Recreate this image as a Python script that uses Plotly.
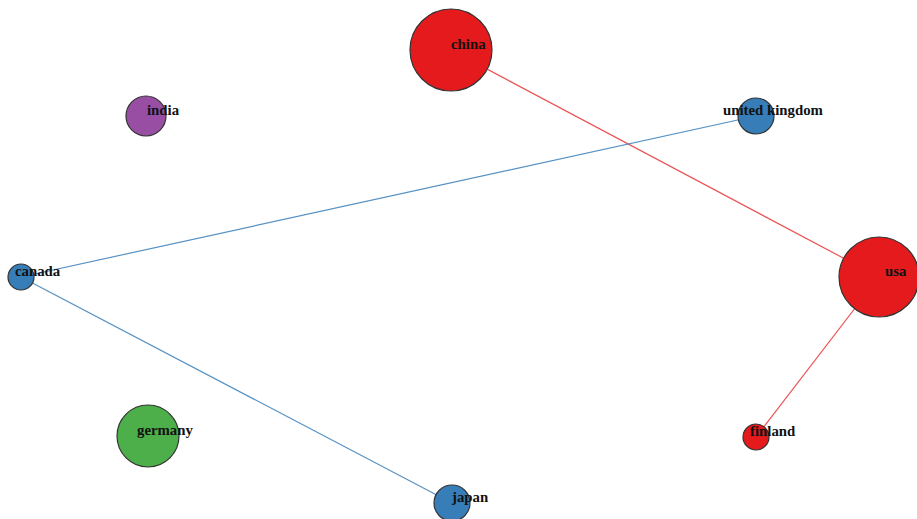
import plotly.graph_objects as go

# Node data (layout coordinates in a 917 x 519 canvas)
nodes = ["china", "india", "united kingdom", "canada", "usa", "germany", "japan", "finland"]
node_x = [451, 146, 756, 21, 879, 148, 452, 756]
node_y = [50, 116, 116, 277, 277, 436, 503, 437]
node_size = [82, 40, 36, 26, 80, 62, 36, 26]
node_group = ["red", "purple", "blue", "blue", "red", "green", "blue", "red"]

edge_source = ["china", "usa", "canada", "canada"]
edge_target = ["usa", "finland", "united kingdom", "japan"]

group_colors = {"red": "#e41a1c", "blue": "#377eb8", "green": "#4daf4a", "purple": "#984ea3"}
edge_colors = {"red": "rgba(228,26,28,0.75)", "blue": "rgba(55,126,184,0.85)"}

idx = {n: i for i, n in enumerate(nodes)}

fig = go.Figure()

for s, t in zip(edge_source, edge_target):
    i, j = idx[s], idx[t]
    fig.add_trace(go.Scatter(
        x=[node_x[i], node_x[j]], y=[node_y[i], node_y[j]],
        mode="lines", line=dict(color=edge_colors[node_group[i]], width=1.2),
        hoverinfo="skip", showlegend=False))

fig.add_trace(go.Scatter(
    x=node_x, y=node_y, mode="markers",
    marker=dict(size=node_size, color=[group_colors[g] for g in node_group],
                line=dict(color="#333333", width=1.2), opacity=1),
    text=nodes, hoverinfo="text", showlegend=False))

for n, x, y in zip(nodes, node_x, node_y):
    fig.add_annotation(x=x, y=y, text="<b>" + n + "</b>", showarrow=False,
                       xshift=17, yshift=6,
                       font=dict(family="Liberation Serif", size=14.8, color="#111111"))

fig.update_layout(
    width=917, height=519,
    margin=dict(l=0, r=0, t=0, b=0),
    paper_bgcolor="white", plot_bgcolor="white",
    xaxis=dict(range=[0, 917], visible=False, fixedrange=True),
    yaxis=dict(range=[519, 0], visible=False, fixedrange=True),
)

fig.write_html("out.html", config={"displayModeBar": False},
               post_script="document.body.style.margin='0';document.body.style.overflow='hidden';")
